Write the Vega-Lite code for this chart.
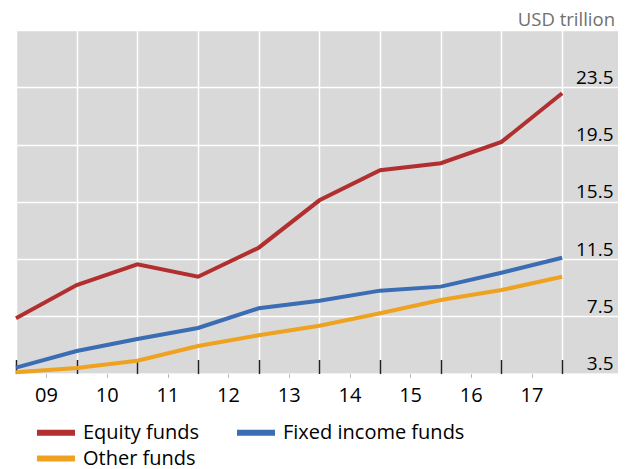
{
  "$schema": "https://vega.github.io/schema/vega-lite/v6.json",
  "width": 602,
  "height": 343.5,
  "autosize": "none",
  "padding": {"left": 16, "top": 30, "right": 12, "bottom": 95.5},
  "background": "white",
  "title": {"text": "USD trillion", "anchor": "end", "orient": "top", "fontSize": 18.5, "fontWeight": "normal", "color": "#707070", "font": "Open Sans", "offset": 1, "dx": -3},
  "config": {"view": {"fill": "#d9d9d9", "stroke": null}},
  "data": {"values": [
    {"year": 2008, "series": "Equity funds", "value": 7.36},
    {"year": 2009, "series": "Equity funds", "value": 9.68},
    {"year": 2010, "series": "Equity funds", "value": 11.13},
    {"year": 2011, "series": "Equity funds", "value": 10.26},
    {"year": 2012, "series": "Equity funds", "value": 12.29},
    {"year": 2013, "series": "Equity funds", "value": 15.6},
    {"year": 2014, "series": "Equity funds", "value": 17.7},
    {"year": 2015, "series": "Equity funds", "value": 18.19},
    {"year": 2016, "series": "Equity funds", "value": 19.68},
    {"year": 2017, "series": "Equity funds", "value": 23.08},
    {"year": 2008, "series": "Fixed income funds", "value": 3.91},
    {"year": 2009, "series": "Fixed income funds", "value": 5.07},
    {"year": 2010, "series": "Fixed income funds", "value": 5.91},
    {"year": 2011, "series": "Fixed income funds", "value": 6.68},
    {"year": 2012, "series": "Fixed income funds", "value": 8.06},
    {"year": 2013, "series": "Fixed income funds", "value": 8.59},
    {"year": 2014, "series": "Fixed income funds", "value": 9.29},
    {"year": 2015, "series": "Fixed income funds", "value": 9.57},
    {"year": 2016, "series": "Fixed income funds", "value": 10.54},
    {"year": 2017, "series": "Fixed income funds", "value": 11.59},
    {"year": 2008, "series": "Other funds", "value": 3.58},
    {"year": 2009, "series": "Other funds", "value": 3.88},
    {"year": 2010, "series": "Other funds", "value": 4.39},
    {"year": 2011, "series": "Other funds", "value": 5.42},
    {"year": 2012, "series": "Other funds", "value": 6.17},
    {"year": 2013, "series": "Other funds", "value": 6.84},
    {"year": 2014, "series": "Other funds", "value": 7.71},
    {"year": 2015, "series": "Other funds", "value": 8.64},
    {"year": 2016, "series": "Other funds", "value": 9.33},
    {"year": 2017, "series": "Other funds", "value": 10.26}
  ]},
  "encoding": {
    "y": {
      "field": "value", "type": "quantitative",
      "scale": {"domain": [3.5, 27.5], "nice": false, "zero": false},
      "axis": {
        "orient": "right",
        "values": [3.5, 7.5, 11.5, 15.5, 19.5, 23.5, 27.5],
        "grid": true, "gridColor": "white", "gridWidth": 1.5,
        "domain": false, "ticks": false,
        "labelAlign": "right", "labelBaseline": "bottom", "labelPadding": -5,
        "labelExpr": "datum.value > 25 ? '' : format(datum.value, '.1f')",
        "labelFontSize": {"condition": {"test": "datum.value > 25", "value": 0}, "value": 19},
        "labelFont": "Open Sans", "labelFontWeight": 500, "labelColor": "black",
        "labelFlush": false, "labelOverlap": false, "title": null
      }
    }
  },
  "layer": [
    {
      "mark": {"type": "line", "strokeWidth": 4},
      "encoding": {
        "x": {
          "field": "year", "type": "quantitative",
          "scale": {"domain": [2008, 2017.92], "nice": false, "zero": false},
          "axis": {
            "orient": "bottom",
            "values": [2008, 2009, 2010, 2011, 2012, 2013, 2014, 2015, 2016, 2017],
            "grid": true, "gridColor": "white", "gridWidth": 1.5,
            "domain": false,
            "ticks": true, "tickSize": -14, "tickColor": "#222222", "tickWidth": 1.5,
            "labelExpr": "datum.value < 2017 ? slice(toString(datum.value + 1), 2) : ''",
            "labelOffset": 30, "labelPadding": 26,
            "labelFontSize": 20, "labelFont": "Open Sans", "labelFontWeight": 500, "labelColor": "black",
            "labelFlush": false, "labelOverlap": false, "title": null
          }
        },
        "color": {
          "field": "series", "type": "nominal",
          "scale": {"domain": ["Equity funds", "Fixed income funds", "Other funds"], "range": ["#b22f2f", "#3a6db3", "#eea21f"]},
          "legend": {
            "orient": "none", "legendX": 27.5, "legendY": 390,
            "direction": "horizontal",
            "columns": 2, "columnPadding": 25, "rowPadding": 1,
            "symbolType": "M-2,0H2", "symbolSize": 361, "symbolStrokeWidth": 6,
            "labelFontSize": 20, "labelFont": "Open Sans", "labelFontWeight": 500, "labelColor": "black",
            "labelOffset": 14.5, "labelLimit": 300, "title": null, "padding": 0
          }
        }
      }
    },
    {
      "mark": {"type": "line", "strokeWidth": 4, "opacity": 0},
      "encoding": {
        "x": {
          "field": "year", "type": "quantitative",
          "axis": {
            "orient": "bottom",
            "values": [2008.5, 2009.5, 2010.5, 2011.5, 2012.5, 2013.5, 2014.5, 2015.5, 2016.5],
            "grid": false, "domain": false, "labels": false,
            "ticks": true, "tickSize": 4, "tickColor": "#bbbbbb", "tickWidth": 1,
            "title": null
          }
        },
        "detail": {"field": "series", "type": "nominal"}
      }
    }
  ],
  "resolve": {"axis": {"x": "independent"}}
}
